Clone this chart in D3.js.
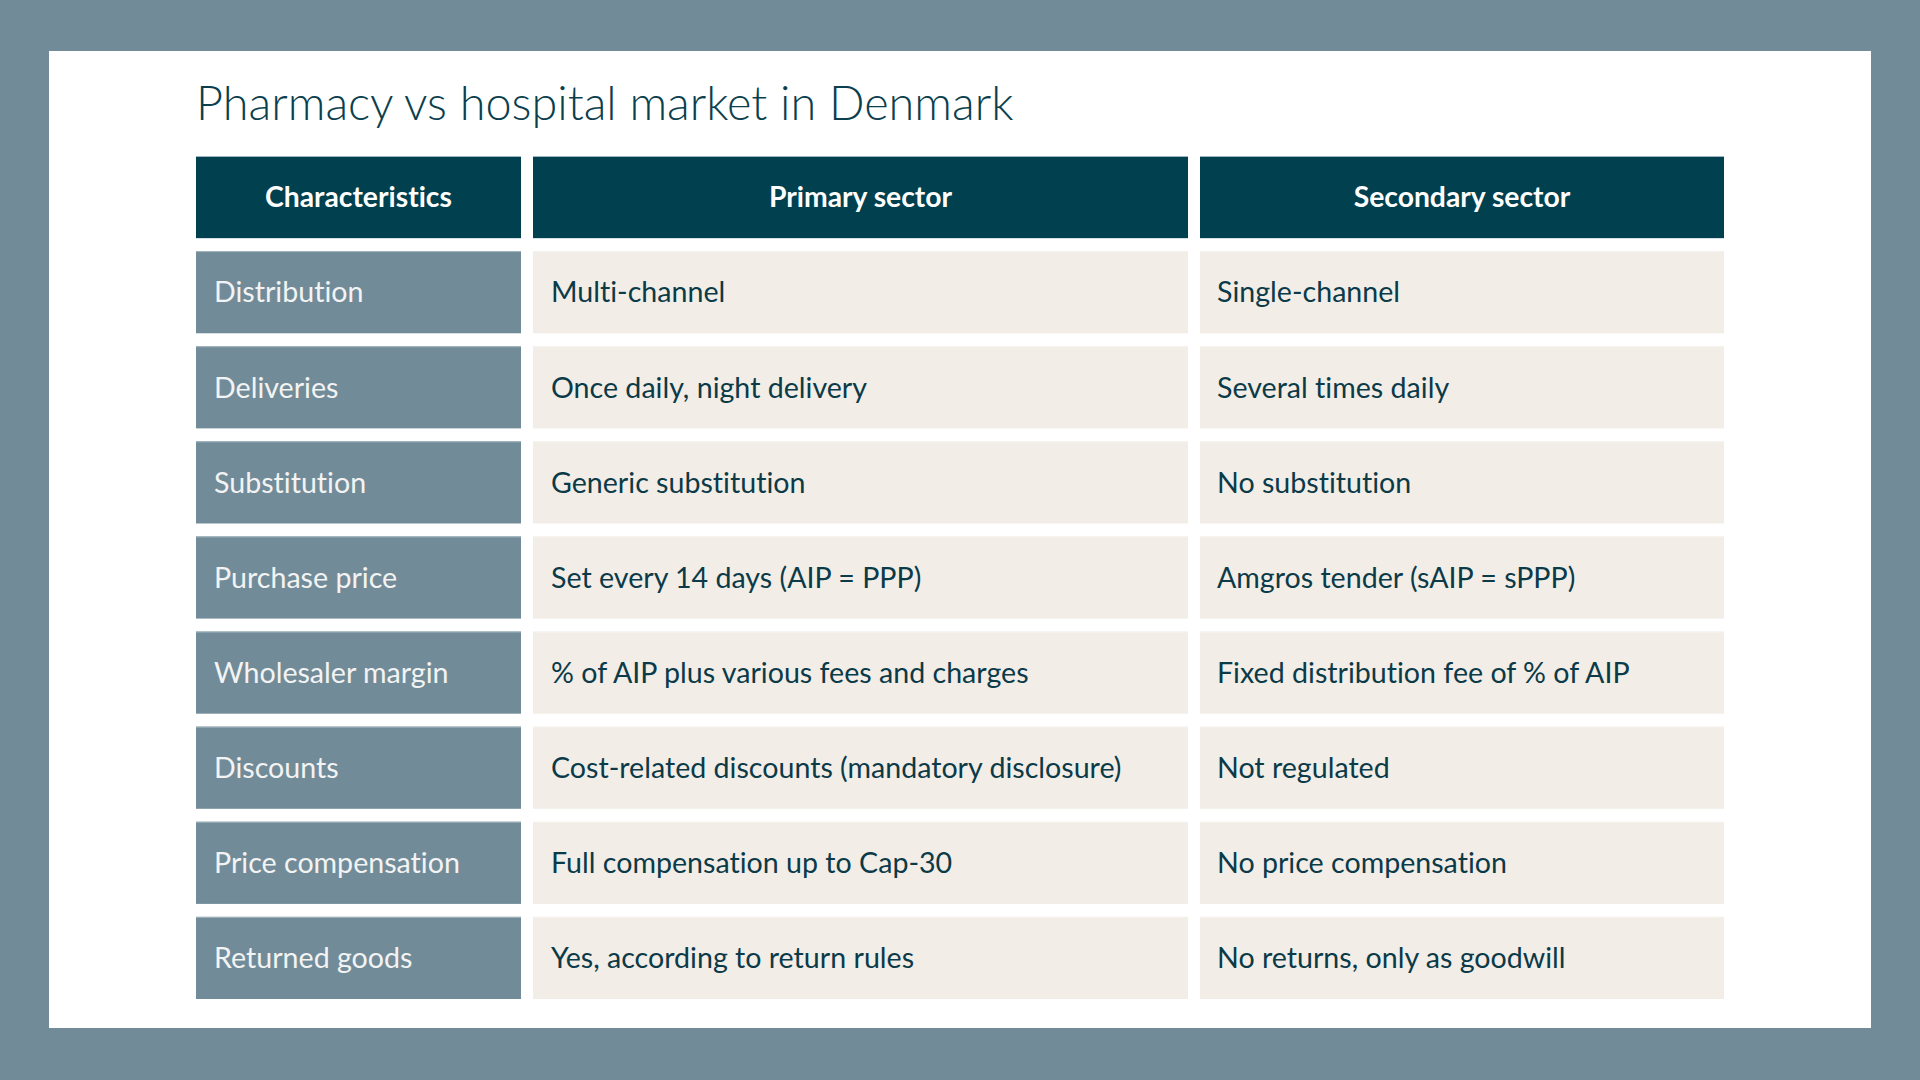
<!DOCTYPE html>
<html>
<head>
<meta charset="utf-8">
<script src="https://cdn.jsdelivr.net/npm/d3@7"></script>
<style>
  html, body { margin: 0; padding: 0; background: #718c98; }
  svg { display: block; }
  text { font-variant-ligatures: none; font-feature-settings: "liga" 0; }
</style>
</head>
<body>
<svg></svg>
<script>
const title = "Pharmacy vs hospital market in Denmark";

const headers = ["Characteristics", "Primary sector", "Secondary sector"];

const characteristics = [
  "Distribution", "Deliveries", "Substitution", "Purchase price",
  "Wholesaler margin", "Discounts", "Price compensation", "Returned goods"
];

const primarySector = [
  "Multi-channel",
  "Once daily, night delivery",
  "Generic substitution",
  "Set every 14 days (AIP = PPP)",
  "% of AIP plus various fees and charges",
  "Cost-related discounts (mandatory disclosure)",
  "Full compensation up to Cap-30",
  "Yes, according to return rules"
];

const secondarySector = [
  "Single-channel",
  "Several times daily",
  "No substitution",
  "Amgros tender (sAIP = sPPP)",
  "Fixed distribution fee of % of AIP",
  "Not regulated",
  "No price compensation",
  "No returns, only as goodwill"
];

const width = 1920, height = 1080;
const font = "Lato, 'Open Sans', sans-serif";

const svg = d3.select("svg")
    .attr("width", width)
    .attr("height", height);

// slide background + white panel
svg.append("rect").attr("width", width).attr("height", height).attr("fill", "#718c98");
svg.append("rect")
    .attr("x", 49).attr("y", 51)
    .attr("width", 1822).attr("height", 977)
    .attr("fill", "#ffffff");

svg.append("text")
    .attr("x", 196).attr("y", 120)
    .attr("font-family", font)
    .attr("font-weight", 300)
    .attr("font-size", 46.8)
    .attr("fill", "#0b3f4e")
    .text(title);

// rows: header + one per characteristic
const rowKeys = ["header"].concat(characteristics);
const y = d3.scaleBand()
    .domain(rowKeys)
    .range([156, 999])
    .paddingInner(0.136);

// column edges (left, right) of each column
const colEdges = [[196, 521], [533, 1188], [1200, 1724]];

const rows = characteristics.map((c, i) => [c, primarySector[i], secondarySector[i]]);

// header row
const head = svg.append("g");
head.selectAll("rect")
    .data(headers)
    .join("rect")
    .attr("x", (d, i) => colEdges[i][0])
    .attr("y", y("header"))
    .attr("width", (d, i) => colEdges[i][1] - colEdges[i][0])
    .attr("height", y.bandwidth())
    .attr("fill", "#00404f");
head.selectAll("line")
    .data(headers)
    .join("line")
    .attr("x1", (d, i) => colEdges[i][0])
    .attr("x2", (d, i) => colEdges[i][1])
    .attr("y1", y("header") + 0.5)
    .attr("y2", y("header") + 0.5)
    .attr("stroke", "#9fb5bf")
    .attr("stroke-width", 1);
head.selectAll("text")
    .data(headers)
    .join("text")
    .attr("x", (d, i) => (colEdges[i][0] + colEdges[i][1]) / 2)
    .attr("y", y("header") + y.bandwidth() / 2)
    .attr("dy", "0.36em")
    .attr("text-anchor", "middle")
    .attr("font-family", font)
    .attr("font-weight", 700)
    .attr("font-size", 28.3)
    .attr("fill", "#ffffff")
    .text(d => d);

// body rows
const body = svg.append("g");
const rowG = body.selectAll("g")
    .data(rows)
    .join("g")
    .attr("transform", d => `translate(0,${y(d[0])})`);

rowG.selectAll("rect")
    .data(d => d)
    .join("rect")
    .attr("x", (d, i) => colEdges[i][0])
    .attr("width", (d, i) => colEdges[i][1] - colEdges[i][0])
    .attr("height", y.bandwidth())
    .attr("fill", (d, i) => i === 0 ? "#718c98" : "#f2ede7");

rowG.selectAll("line")
    .data(d => d)
    .join("line")
    .attr("x1", (d, i) => colEdges[i][0])
    .attr("x2", (d, i) => colEdges[i][1])
    .attr("y1", 0.5)
    .attr("y2", 0.5)
    .attr("stroke", (d, i) => i === 0 ? "#a3b6be" : "#f6f3ef")
    .attr("stroke-width", 1);

rowG.selectAll("text")
    .data(d => d)
    .join("text")
    .attr("x", (d, i) => colEdges[i][0] + (i === 2 ? 17 : 18))
    .attr("y", y.bandwidth() / 2)
    .attr("dy", "0.36em")
    .attr("font-family", font)
    .attr("font-size", 28.6)
    .attr("fill", (d, i) => i === 0 ? "#f3f3f3" : "#0b3a48")
    .text(d => d);
</script>
</body>
</html>
